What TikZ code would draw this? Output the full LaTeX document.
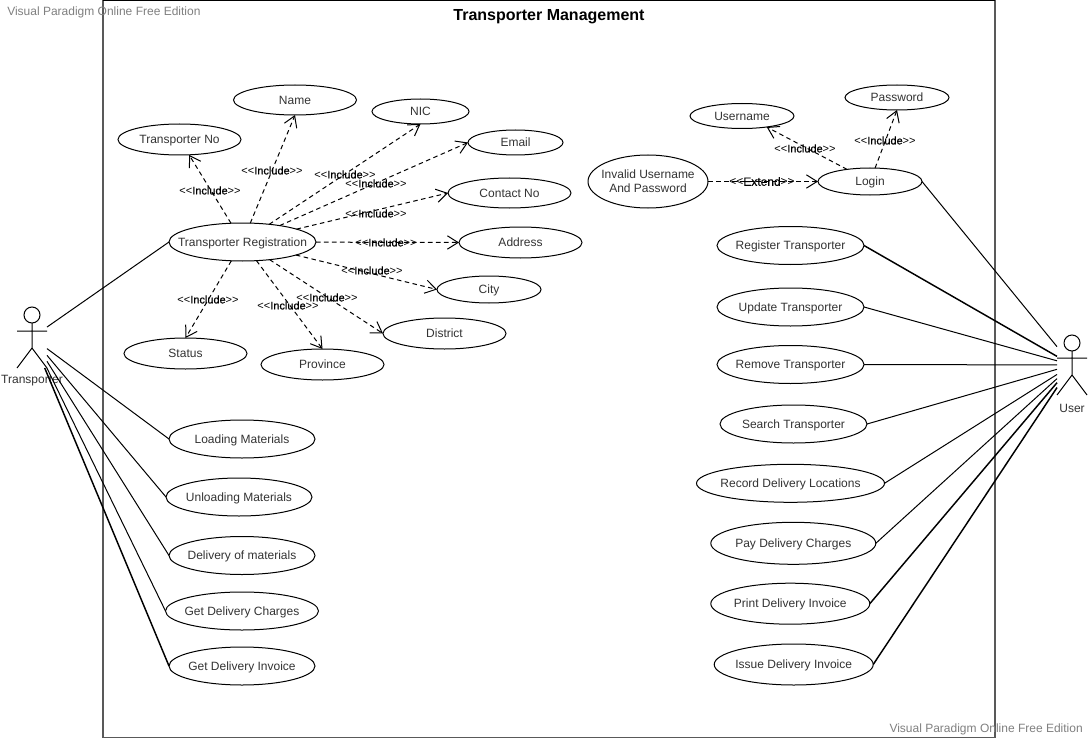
\documentclass[tikz,border=0pt]{standalone}
\usepackage{fontspec}
\setmainfont{Liberation Sans}
\usetikzlibrary{shapes.geometric,arrows.meta}
\newcommand\ut[1]{\makebox[0pt]{\smash{\raisebox{-3.2pt}{#1}}}}
\newcommand\incl{{<}{<}{\addfontfeature{FakeBold=0.5}Include}{>}{>}}
\newcommand\extd{{<}{<}{\addfontfeature{FakeBold=0.5}Extend}{>}{>}}
\tikzset{
  uc/.style 2 args={ellipse,draw=black,fill=white,line width=0.75pt,inner sep=0pt,outer sep=0pt,
     minimum width=#1*0.75pt,minimum height=#2*0.75pt,font=\fontsize{9}{10.5}\selectfont,text=black!80},
  assoc/.style={draw=black,line width=0.75pt},
  assocb/.style={draw=black,line width=1.1pt},
  dep/.style={draw=black,line width=0.75pt,dash pattern=on 3.4pt off 2.6pt,
     -{Straight Barb[length=8pt,width=10pt,line width=0.75pt]}},
  lab/.style={inner sep=0pt,font=\fontsize{8.25}{10}\selectfont,text=black},
  actorbox/.style={rectangle,inner sep=0pt,outer sep=0pt,minimum width=22.5pt},
  limb/.style={draw=black,line width=0.75pt},
  actorname/.style={inner sep=0pt,font=\fontsize{9}{10.5}\selectfont,text=black!80},
  water/.style={inner sep=0pt,font=\fontsize{9}{10.5}\selectfont,text=black!50},
  framegray/.style={draw=black!65,line width=1.1pt},
  frametop/.style={draw=black,line width=1.1pt}
}
\begin{document}
\begin{tikzpicture}[x=0.75pt,y=-0.75pt]
\useasboundingbox (0,0) rectangle (1088,738);
\fill[white] (0,0) rectangle (1088,738);
% frame
\coordinate (f1) at (103,0.5); \coordinate (f2) at (995,0.5);
\coordinate (f3) at (995,737.5); \coordinate (f4) at (103,737.5);
\draw[framegray] (f2) -- (f3) -- (f4) -- (f1);
\draw[frametop] (f1) -- (f2);
\node[inner sep=0pt,font=\fontsize{12}{14}\selectfont\bfseries] (title) at (549,17) {Transporter Management};
\node[water,anchor=west] (wm1) at (7,12) {Visual Paradigm Online Free Edition};
\node[water,anchor=east] (wm2) at (1083,729) {Visual Paradigm Online Free Edition};
% actors
\node[actorbox,minimum height=45.75pt] (ta) at (32,337.5) {};
\node[actorbox,minimum height=45.75pt] (ua) at (1072,365) {};
\draw[limb] (32,315) circle[radius=8];
\draw[limb] (32,323) -- (32,348) (17,331) -- (47,331) (17,368) -- (32,348) -- (47,368);
\node[actorname] (tal) at (32,381) {Transporter};
\draw[limb] (1072,343) circle[radius=8];
\draw[limb] (1072,351) -- (1072,375) (1057,358) -- (1087,358) (1057,395) -- (1072,375) -- (1087,395);
\node[actorname] (ual) at (1072,408) {User};
% use cases
\node[uc={147}{38}] (reg) at (242.5,242) {\ut{Transporter Registration}};
\node[uc={123}{30}] (name) at (295,100) {\ut{Name}};
\node[uc={97}{25}] (nic) at (420.5,111.5) {\ut{NIC}};
\node[uc={95}{25}] (email) at (515.5,142.5) {\ut{Email}};
\node[uc={123}{30}] (contact) at (509.5,193) {\ut{Contact No}};
\node[uc={123}{31}] (address) at (520.5,242.5) {\ut{Address}};
\node[uc={104}{27}] (city) at (489,289.5) {\ut{City}};
\node[uc={123}{31}] (district) at (444.5,333.5) {\ut{District}};
\node[uc={123}{31}] (province) at (322.5,364.5) {\ut{Province}};
\node[uc={123}{31}] (status) at (185.5,353.5) {\ut{Status}};
\node[uc={123}{31}] (tno) at (179.5,139.5) {\ut{Transporter No}};
\node[uc={146}{38}] (load) at (242,439) {\ut{Loading Materials}};
\node[uc={146}{38}] (unload) at (239,497) {\ut{Unloading Materials}};
\node[uc={146}{38}] (deliv) at (242,555.5) {\ut{Delivery of materials}};
\node[uc={153}{38}] (charges) at (242,611) {\ut{Get Delivery Charges}};
\node[uc={146}{38}] (invoice) at (242,666) {\ut{Get Delivery Invoice}};
\node[uc={104}{25}] (user) at (742,116) {\ut{Username}};
\node[uc={104}{25}] (pass) at (897,97.5) {\ut{Password}};
\node[uc={104}{27}] (login) at (870,181.5) {\ut{Login}};
\node[uc={120}{53}] (invalid) at (648,181.5) {\ut{\begin{tabular}{@{}c@{}}Invalid Username\\And Password\end{tabular}}};
\node[uc={147}{38}] (regt) at (790.5,245.5) {\ut{Register Transporter}};
\node[uc={147}{38}] (updt) at (790.5,307) {\ut{Update Transporter}};
\node[uc={147}{38}] (remt) at (790.5,364.5) {\ut{Remove Transporter}};
\node[uc={147}{38}] (srch) at (793.5,424) {\ut{Search Transporter}};
\node[uc={188}{38}] (recd) at (790.5,483.3) {\ut{Record Delivery Locations}};
\node[uc={165}{42}] (payd) at (793.3,543.3) {\ut{Pay Delivery Charges}};
\node[uc={159}{41}] (prnt) at (790.3,603.7) {\ut{Print Delivery Invoice}};
\node[uc={159}{41}] (issu) at (793.7,664.5) {\ut{Issue Delivery Invoice}};
% associations
\draw[assoc] (ta) -- (reg.west);
\draw[assoc] (ta) -- (load.west);
\draw[assoc] (ta) -- (unload.west);
\draw[assoc] (ta) -- (deliv.west);
\draw[assoc] (ta) -- (charges.west);
\draw[assocb] (ta) -- (invoice.west);
\draw[assoc] (login.east) -- (ua);
\draw[assocb] (regt.east) -- (ua);
\draw[assoc] (updt.east) -- (ua);
\draw[assoc] (remt.east) -- (ua);
\draw[assoc] (srch.east) -- (ua);
\draw[assoc] (recd.east) -- (ua);
\draw[assoc] (payd.east) -- (ua);
\draw[assocb] (prnt.east) -- (ua);
\draw[assocb] (issu.east) -- (ua);
% dependencies
\draw[dep] (reg) -- (tno.-58.5);
\draw[dep] (reg) -- (name.south);
\draw[dep] (reg) -- (nic.south);
\draw[dep] (reg) -- (email.west);
\draw[dep] (reg) -- (contact.west);
\draw[dep] (reg) -- (address.west);
\draw[dep] (reg) -- (city.west);
\draw[dep] (reg) -- (district.west);
\draw[dep] (reg) -- (province.north);
\draw[dep] (reg) -- (status.north);
\draw[dep] (login) -- (user.-24);
\draw[dep] (login) -- (pass.south);
\draw[dep] (invalid.east) -- (login.west);
% labels
\node[lab] (l1) at (210,190.5) {\incl};
\node[lab] (l2) at (272,170.5) {\incl};
\node[lab] (l3) at (345,174.5) {\incl};
\node[lab] (l4) at (376,183.5) {\incl};
\node[lab] (l5) at (376,213.5) {\incl};
\node[lab] (l6) at (386,242.5) {\incl};
\node[lab] (l7) at (372,270.5) {\incl};
\node[lab] (l8) at (327,297.5) {\incl};
\node[lab] (l9) at (288,305.5) {\incl};
\node[lab] (l10) at (208,299.5) {\incl};
\node[lab] (l11) at (805,148.5) {\incl};
\node[lab] (l12) at (885,140.5) {\incl};
\node[lab,font=\fontsize{9}{10.5}\selectfont] (l13) at (762,181.5) {\extd};
\end{tikzpicture}
\end{document}
